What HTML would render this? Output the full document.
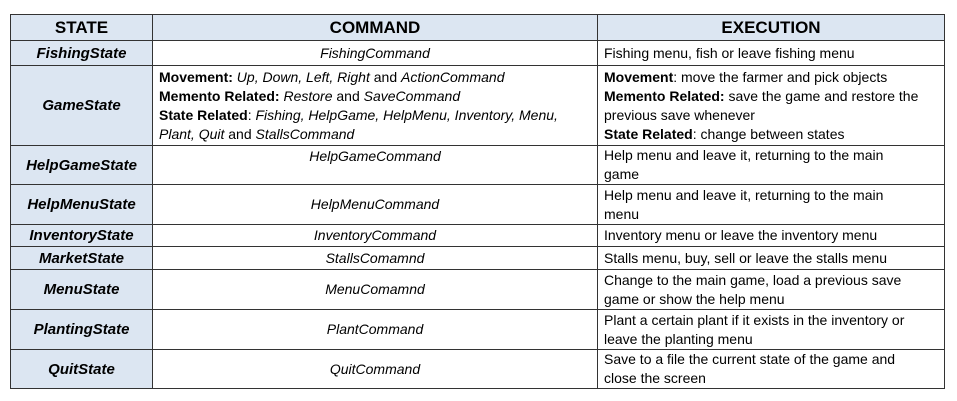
<!DOCTYPE html>
<html><head><meta charset="utf-8"><style>
body{margin:0;width:957px;height:401px;background:#fff;font-family:"Liberation Sans",sans-serif;color:#000;position:relative;overflow:hidden}
table{position:absolute;left:10px;top:14px;border-collapse:collapse;table-layout:fixed;width:934px}
td{border:1px solid #333;padding:0 6px;font-size:14px;line-height:19px;vertical-align:middle;overflow:hidden;white-space:nowrap}
td.s{background:#dce6f2;font-weight:bold;font-style:italic;text-align:center;font-size:15px}
td.c{text-align:center;font-style:italic}
td.l{text-align:left}
tr.h td{background:#dce6f2;font-weight:bold;text-align:center;font-size:17px}
i{font-style:italic}
</style></head><body>
<table>
<colgroup><col style="width:142px"><col style="width:445px"><col style="width:347px"></colgroup>
<tr class="h" style="height:26px"><td>STATE</td><td>COMMAND</td><td>EXECUTION</td></tr>
<tr style="height:25px"><td class="s">FishingState</td><td class="c">FishingCommand</td><td class="l">Fishing menu, fish or leave fishing menu</td></tr>
<tr style="height:80px"><td class="s">GameState</td><td class="l"><b>Movement:</b> <i>Up, Down, Left, Right</i> and <i>ActionCommand</i><br><b>Memento Related:</b> <i>Restore</i> and <i>SaveCommand</i><br><b>State Related</b>: <i>Fishing, HelpGame, HelpMenu, Inventory, Menu,<br>Plant, Quit</i> and <i>StallsCommand</i></td><td class="l"><b>Movement</b>: move the farmer and pick objects<br><b>Memento Related:</b> save the game and restore the<br>previous save whenever<br><b>State Related</b>: change between states</td></tr>
<tr style="height:39px"><td class="s">HelpGameState</td><td class="c" style="vertical-align:top;padding-top:1px">HelpGameCommand</td><td class="l">Help menu and leave it, returning to the main<br>game</td></tr>
<tr style="height:40px"><td class="s">HelpMenuState</td><td class="c">HelpMenuCommand</td><td class="l">Help menu and leave it, returning to the main<br>menu</td></tr>
<tr style="height:22px"><td class="s">InventoryState</td><td class="c">InventoryCommand</td><td class="l">Inventory menu or leave the inventory menu</td></tr>
<tr style="height:23px"><td class="s">MarketState</td><td class="c">StallsComamnd</td><td class="l">Stalls menu, buy, sell or leave the stalls menu</td></tr>
<tr style="height:40px"><td class="s">MenuState</td><td class="c">MenuComamnd</td><td class="l">Change to the main game, load a previous save<br>game or show the help menu</td></tr>
<tr style="height:40px"><td class="s">PlantingState</td><td class="c">PlantCommand</td><td class="l">Plant a certain plant if it exists in the inventory or<br>leave the planting menu</td></tr>
<tr style="height:39px"><td class="s">QuitState</td><td class="c">QuitCommand</td><td class="l">Save to a file the current state of the game and<br>close the screen</td></tr>
</table>
</body></html>
